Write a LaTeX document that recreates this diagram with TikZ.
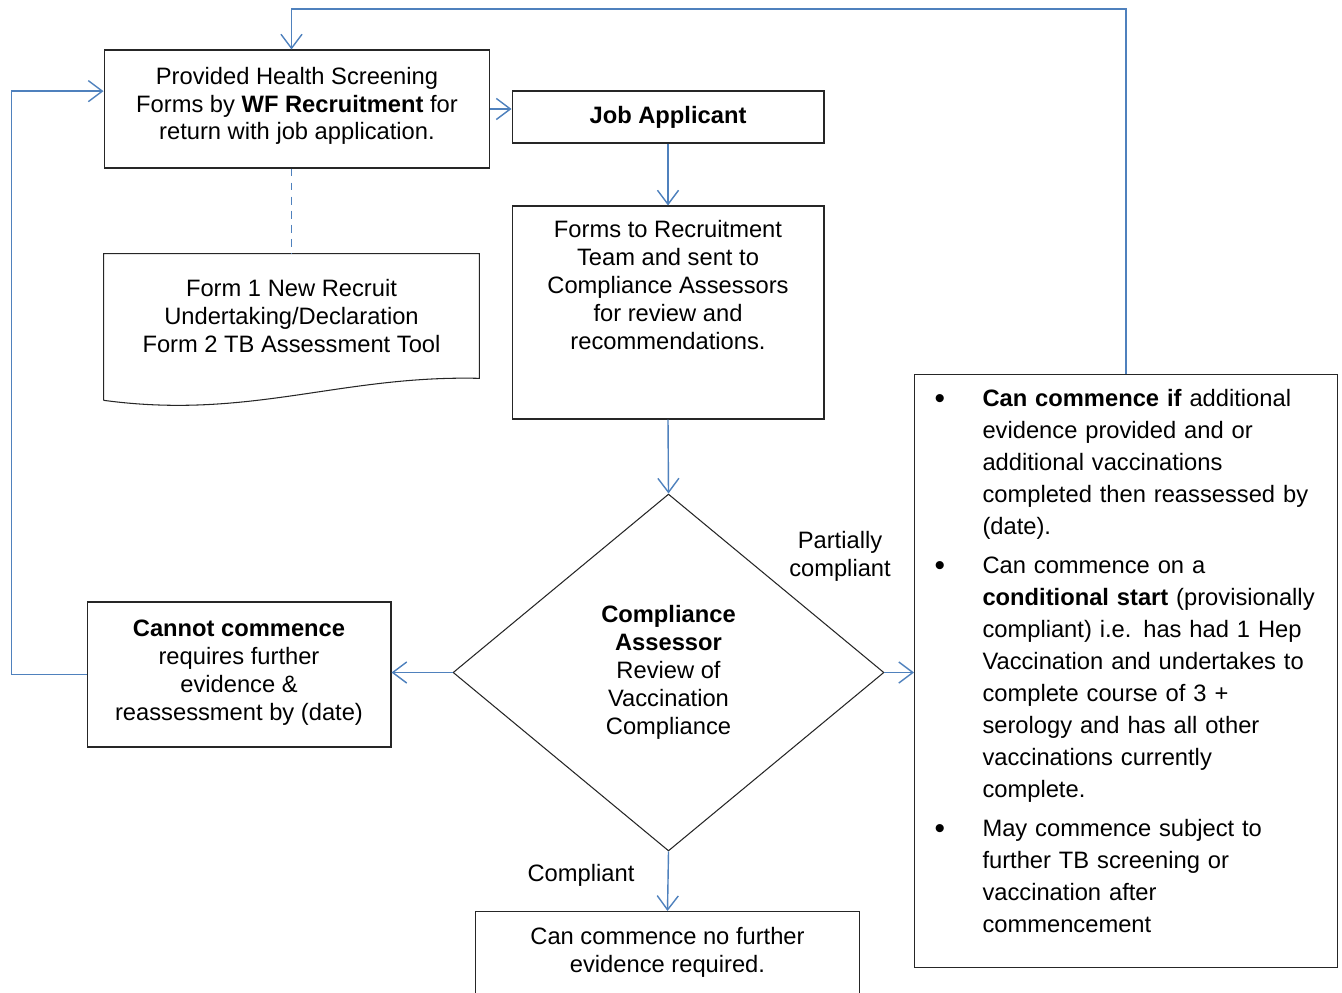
\documentclass[tikz,border=0pt]{standalone}
\usepackage{fontspec}
\setmainfont{Liberation Sans}
\usetikzlibrary{arrows.meta,calc,positioning,shapes.geometric}
\definecolor{flowblue}{HTML}{4F81BD}
\newcommand{\bigbullet}{\raisebox{-1pt}{\fontsize{17}{17}\selectfont\textbullet}}

\begin{document}
\begin{tikzpicture}[x=0.02cm,y=-0.02cm,
    font=\fontsize{13.5}{15.9}\selectfont,
    plainbox/.style={draw=black!85,line width=0.6pt,align=center,inner sep=0pt},
    flow/.style={draw=flowblue,line width=0.8pt,-{Straight Barb[length=8pt,width=12pt]}},
    flowlabel/.style={align=center,inner sep=0pt}]
  \clip (0,0) rectangle (1342,993);
  % boxes
  \node[plainbox,minimum width=7.72cm,minimum height=2.36cm] (form) at (297,109) {
    Provided Health Screening\\Forms by \textbf{WF Recruitment} for\\return with job application.\\[-9.6pt]\mbox{}};
  \node[plainbox,minimum width=6.24cm,minimum height=1.04cm] (job) at (668,117) {\textbf{Job Applicant}};
  \node[plainbox,minimum width=6.24cm,minimum height=4.26cm] (review) at (668,312.5) {
    Forms to Recruitment\\Team and sent to\\Compliance Assessors\\for review and\\recommendations.\\\mbox{}\\\mbox{}};
  \node[align=center,inner sep=0pt,minimum width=7.5cm,minimum height=2.48cm] (forms) at (291.5,316) {
    Form 1 New Recruit\\Undertaking/Declaration\\Form 2 TB Assessment Tool};
  \draw[black!85,line width=0.6pt] ($(forms.south west)+(0,22)$) -- (forms.north west) -- (forms.north east)
    -- (forms.south east) .. controls (340,375) and (250,420) .. ($(forms.south west)+(0,22)$);
  \node[diamond,plainbox,aspect=1.2,minimum width=8.62cm,minimum height=7.14cm] (check) at (668.5,672.5) {
    \textbf{Compliance}\\\textbf{Assessor}\\Review of\\Vaccination\\Compliance};
  \node[plainbox,minimum width=6.08cm,minimum height=2.9cm] (cannot) at (239,674.5) {
    \textbf{Cannot commence}\\requires further\\evidence \&\\reassessment by (date)\\[-10.8pt]\mbox{}};
  \node[plainbox,anchor=north,minimum width=7.7cm,minimum height=2.08cm] (final) at (667.5,911) {
    Can commence no further\\evidence required.\\\mbox{}};
  \node[plainbox,anchor=north west,text width=8.46cm,align=left,minimum height=11.86cm,
    font=\fontsize{13.5}{18.2}\selectfont] (assess) at (914,374) {%
    \begin{tabular}{@{\hspace{0.4cm}}p{0.96cm}@{}l@{}}
      \bigbullet & \textbf{Can commence if} additional\\
      & evidence provided and or\\
      & additional vaccinations\\
      & completed then reassessed by\\
      & (date).\\[4pt]
      \bigbullet & Can commence on a\\
      & \textbf{conditional start} (provisionally\\
      & compliant) i.e. has had 1 Hep\\
      & Vaccination and undertakes to\\
      & complete course of 3 +\\
      & serology and has all other\\
      & vaccinations currently\\
      & complete.\\[4pt]
      \bigbullet & May commence subject to\\
      & further TB screening or\\
      & vaccination after\\
      & commencement\\[9pt]
    \end{tabular}};
  % labels
  \node[flowlabel] (partial) at (840,556) {Partially\\compliant};
  \node[flowlabel] (compliant) at (581,875) {Compliant};
  % connectors
  \coordinate (loop) at (1125,9);
  \draw[flow] (assess.north) -- (assess.north |- loop) -| (form.north -| forms.north);
  \draw[flow] (cannot.west) -- ++(-75,0) |- ($(form.north west)!0.35!(form.south west)$);
  \draw[flow] (form.east) -- (job.west |- form.east);
  \draw[flow] (job.south) -- (review.north);
  \draw[flow] (review.south) -- (check.north);
  \draw[flow] (check.west) -- (cannot.east |- check.west);
  \draw[flow] (check.east) -- (assess.west |- check.east);
  \draw[flow] (check.south) -- (final.north);
  \draw[flowblue,line width=0.8pt,dash pattern=on 4.5pt off 3.5pt] (form.south -| forms.north) -- (forms.north);
\end{tikzpicture}
\end{document}
